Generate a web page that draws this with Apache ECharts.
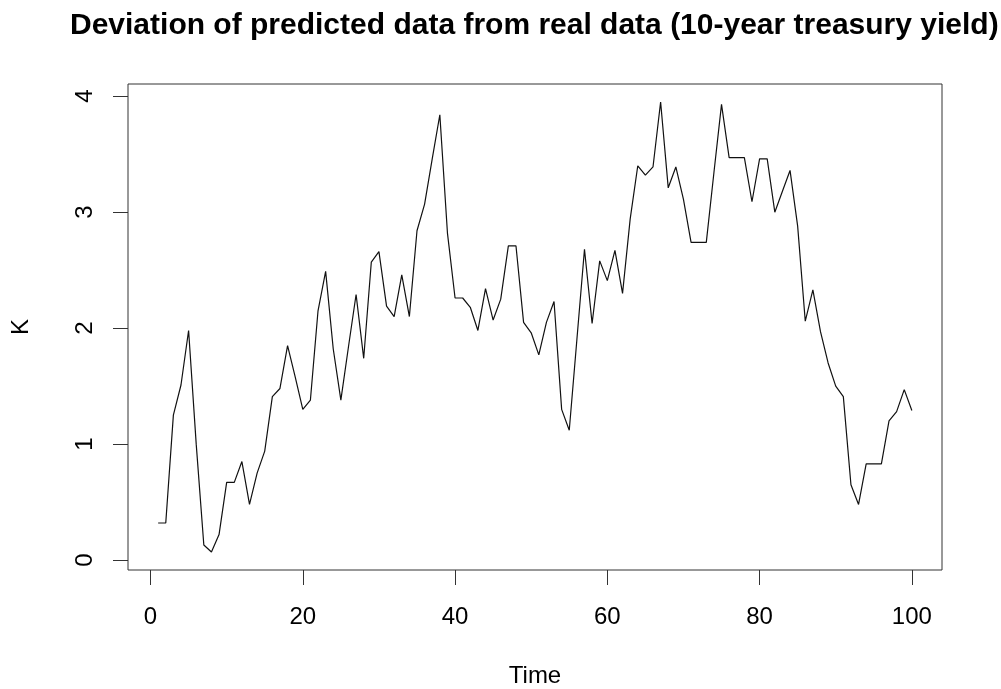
<!DOCTYPE html>
<html>
<head>
<meta charset="utf-8">
<script src="https://cdn.jsdelivr.net/npm/echarts@6/dist/echarts.min.js"></script>
<style>
  html, body { margin: 0; padding: 0; background: #fff; }
  #main { width: 1001px; height: 689px; }
</style>
</head>
<body>
<div id="main"></div>
<script>
// 时间序号（x）
const timeIdx = [
    1, 2, 3, 4, 5, 6, 7, 8, 9, 10,
    11, 12, 13, 14, 15, 16, 17, 18, 19, 20,
    21, 22, 23, 24, 25, 26, 27, 28, 29, 30,
    31, 32, 33, 34, 35, 36, 37, 38, 39, 40,
    41, 42, 43, 44, 45, 46, 47, 48, 49, 50,
    51, 52, 53, 54, 55, 56, 57, 58, 59, 60,
    61, 62, 63, 64, 65, 66, 67, 68, 69, 70,
    71, 72, 73, 74, 75, 76, 77, 78, 79, 80,
    81, 82, 83, 84, 85, 86, 87, 88, 89, 90,
    91, 92, 93, 94, 95, 96, 97, 98, 99, 100
];
// 偏差值 K
const kValues = [
    0.32, 0.32, 1.25, 1.51, 1.98, 1.00, 0.13, 0.07, 0.22, 0.67,
    0.67, 0.85, 0.48, 0.75, 0.94, 1.41, 1.48, 1.85, 1.58, 1.30,
    1.38, 2.15, 2.49, 1.82, 1.38, 1.84, 2.29, 1.74, 2.57, 2.66,
    2.19, 2.10, 2.46, 2.10, 2.84, 3.07, 3.46, 3.84, 2.82, 2.26,
    2.26, 2.18, 1.98, 2.34, 2.07, 2.25, 2.71, 2.71, 2.05, 1.96,
    1.77, 2.05, 2.23, 1.30, 1.12, 1.90, 2.68, 2.04, 2.58, 2.41,
    2.67, 2.30, 2.94, 3.40, 3.32, 3.39, 3.95, 3.21, 3.39, 3.11,
    2.74, 2.74, 2.74, 3.34, 3.93, 3.47, 3.47, 3.47, 3.09, 3.46,
    3.46, 3.00, 3.18, 3.36, 2.88, 2.06, 2.33, 1.97, 1.70, 1.50,
    1.41, 0.65, 0.48, 0.83, 0.83, 0.83, 1.20, 1.28, 1.47, 1.29
];
// 刻度
const xTicks = [0, 20, 40, 60, 80, 100];
const yTicks = [0, 1, 2, 3, 4];

const titleText = 'Deviation of predicted data from real data (10-year treasury yield)';

// R 风格：坐标范围两端各扩展 4%
function padRange(arr) {
    let lo = Math.min.apply(null, arr), hi = Math.max.apply(null, arr);
    let d = (hi - lo) * 0.04;
    return [lo - d, hi + d];
}
const xr = padRange(timeIdx);
const yr = padRange(kValues);

const fontFam = '"Liberation Sans", Arial, Helvetica, sans-serif';
const axisColor = '#333';

let myChart = echarts.init(document.getElementById('main'), null, { renderer: 'canvas' });
let option = {
    animation: false,
    backgroundColor: '#fff',
    graphic: [{
        type: 'text',
        left: 70,   // 标题居中于绘图区
        top: 11,
        style: {
            text: titleText,
            font: 'bold 30px ' + fontFam,
            fill: '#000'
        }
    }],
    grid: {
        left: 128,
        right: 59,
        top: 84,
        bottom: 119,
        outerBoundsMode: 'none',   // 不自动收缩绘图区
        show: true,
        borderColor: axisColor,
        borderWidth: 1,
        backgroundColor: 'transparent'
    },
    xAxis: {
        type: 'value',
        min: xr[0],
        max: xr[1],
        name: 'Time',
        nameLocation: 'middle',
        nameGap: 94,
        nameTextStyle: { fontFamily: fontFam, fontSize: 24, color: '#000' },
        axisLine: { show: false, onZero: false },
        splitLine: { show: false },
        axisTick: {
            show: true,
            inside: false,
            length: 15,
            customValues: xTicks,
            lineStyle: { color: axisColor, width: 1 }
        },
        axisLabel: {
            customValues: xTicks,
            margin: 35,
            fontFamily: fontFam,
            fontSize: 24,
            color: '#000'
        }
    },
    yAxis: {
        type: 'value',
        min: yr[0],
        max: yr[1],
        name: 'K',
        nameLocation: 'middle',
        nameGap: 95,
        nameTextStyle: { fontFamily: fontFam, fontSize: 24, color: '#000' },
        axisLine: { show: false, onZero: false },
        splitLine: { show: false },
        axisTick: {
            show: true,
            inside: false,
            length: 15,
            customValues: yTicks,
            lineStyle: { color: axisColor, width: 1 }
        },
        axisLabel: {
            customValues: yTicks,
            rotate: 90,
            margin: 31,
            fontFamily: fontFam,
            fontSize: 24,
            color: '#000'
        }
    },
    series: [{
        type: 'line',
        data: timeIdx.map((t, i) => [t, kValues[i]]),
        showSymbol: false,
        symbol: 'none',
        lineStyle: { color: '#111', width: 1.2 },
        silent: true
    }]
};
myChart.setOption(option);
</script>
</body>
</html>
